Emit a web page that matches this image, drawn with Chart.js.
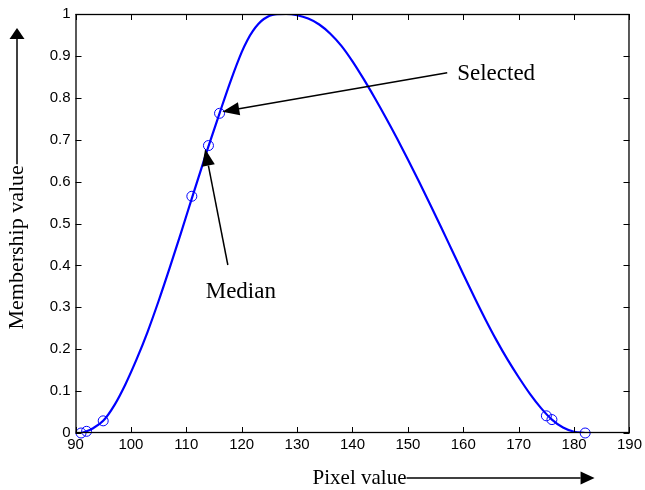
<!DOCTYPE html>
<html>
<head>
<meta charset="utf-8">
<script src="https://cdn.jsdelivr.net/npm/chart.js@4/dist/chart.umd.min.js"></script>
<style>
  html, body { margin: 0; padding: 0; background: #ffffff; }
  #wrap { width: 645px; height: 490px; }
</style>
</head>
<body>
<div id="wrap"><canvas id="membership-chart"></canvas></div>
<script>
// membership curve
const curveX = [91, 92, 93, 95, 97, 99, 101, 103, 105, 107, 109, 111, 113, 114, 116, 118, 120, 121, 122, 123, 124, 126, 128,
                130, 132, 134, 136, 138, 140, 142, 144, 146, 148, 150, 152, 154, 156, 158, 160, 162, 164, 166, 168,
                170, 172, 174, 176, 178, 180, 182];
const curveY = [0, 0.004, 0.01, 0.029, 0.066, 0.116, 0.175, 0.241, 0.315, 0.394, 0.476, 0.56, 0.643, 0.684, 0.763, 0.84, 0.909, 0.937, 0.959, 0.976, 0.988, 0.999, 1,
                0.997, 0.989, 0.975, 0.953, 0.924, 0.887, 0.845, 0.8, 0.753, 0.704, 0.653, 0.6, 0.546, 0.491, 0.435, 0.379, 0.324, 0.271, 0.221, 0.175,
                0.133, 0.094, 0.06, 0.032, 0.013, 0.003, 0];

// circled pixels
const markX = [91, 92, 95, 111, 114, 116, 175, 176, 182];
const markY = [0, 0.004, 0.029, 0.565, 0.686, 0.763, 0.041, 0.032, 0];

// axes
const xMin = 90, xMax = 190, xStep = 10;
const yMin = 0, yMax = 1, yStep = 0.1;
const xTitle = 'Pixel value';
const yTitle = 'Membership value';

// annotations (data units): label, text anchor, arrow tail, arrow tip
const noteLabels = ['Selected', 'Median'];
const noteTextAt = [[158.9, 0.858], [113.5, 0.336]];
const noteTail = [[157.1, 0.86], [117.5, 0.401]];
const noteTip = [[116.5, 0.767], [113.4, 0.678]];

const serif = '"Liberation Serif", "Times New Roman", serif';

function drawArrow(ctx, x0, y0, x1, y1, len, half) {
    let ang = Math.atan2(y1 - y0, x1 - x0);
    let bx = x1 - len * Math.cos(ang);
    let by = y1 - len * Math.sin(ang);
    ctx.beginPath();
    ctx.moveTo(x0, y0);
    ctx.lineTo(bx, by);
    ctx.stroke();
    ctx.beginPath();
    ctx.moveTo(x1, y1);
    ctx.lineTo(bx + half * Math.sin(ang), by - half * Math.cos(ang));
    ctx.lineTo(bx - half * Math.sin(ang), by + half * Math.cos(ang));
    ctx.closePath();
    ctx.fill();
}

// box, inward ticks, titles and arrows (matlab look)
const decorPlugin = {
    id: 'decor',
    afterDraw(chart) {
        const ctx = chart.ctx;
        const a = chart.chartArea;
        const xs = chart.scales.x;
        const ys = chart.scales.y;
        ctx.save();
        ctx.strokeStyle = '#000000';
        ctx.fillStyle = '#000000';
        ctx.lineWidth = 1.3;
        ctx.strokeRect(a.left + 0.5, a.top + 0.5, a.right - a.left - 1, a.bottom - a.top - 1);

        const tl = 6;
        ctx.lineWidth = 1;
        ctx.beginPath();
        xs.ticks.forEach(t => {
            let px = Math.round(xs.getPixelForValue(t.value)) + 0.5;
            ctx.moveTo(px, a.bottom); ctx.lineTo(px, a.bottom - tl);
            ctx.moveTo(px, a.top); ctx.lineTo(px, a.top + tl);
        });
        ys.ticks.forEach(t => {
            let py = Math.round(ys.getPixelForValue(t.value)) + 0.5;
            ctx.moveTo(a.left, py); ctx.lineTo(a.left + tl, py);
            ctx.moveTo(a.right, py); ctx.lineTo(a.right - tl, py);
        });
        ctx.stroke();

        // annotations
        ctx.lineWidth = 1.5;
        ctx.font = '23px ' + serif;
        ctx.textBaseline = 'middle';
        ctx.textAlign = 'left';
        for (let i = 0; i < noteLabels.length; i++) {
            drawArrow(ctx,
                xs.getPixelForValue(noteTail[i][0]), ys.getPixelForValue(noteTail[i][1]),
                xs.getPixelForValue(noteTip[i][0]), ys.getPixelForValue(noteTip[i][1]), 17, 6.5);
            ctx.fillText(noteLabels[i], xs.getPixelForValue(noteTextAt[i][0]), ys.getPixelForValue(noteTextAt[i][1]));
        }

        // x title with arrow to the right
        ctx.font = '21px ' + serif;
        let xw = ctx.measureText(xTitle).width;
        let xl = a.left + 0.428 * (a.right - a.left);
        let xy = chart.height - 12;
        ctx.fillText(xTitle, xl, xy);
        drawArrow(ctx, xl + xw, xy, a.left + 0.937 * (a.right - a.left), xy, 14, 6.5);

        // y title with arrow upward
        ctx.font = '22px ' + serif;
        let yw = ctx.measureText(yTitle).width;
        let yc = a.top + 0.557 * (a.bottom - a.top);
        let yx = 17;
        ctx.save();
        ctx.translate(yx, yc);
        ctx.rotate(-Math.PI / 2);
        ctx.textAlign = 'center';
        ctx.fillText(yTitle, 0, 0);
        ctx.restore();
        drawArrow(ctx, yx, yc - yw / 2 - 1, yx, a.top + 14, 11, 7.5);
        ctx.restore();
    }
};

const chartData = {
    datasets: [
        {
            label: 'membership',
            data: curveX.map((x, i) => ({x: x, y: curveY[i]})),
            showLine: true,
            borderColor: '#0000ff',
            borderWidth: 2.2,
            pointRadius: 0,
            cubicInterpolationMode: 'monotone',
            fill: false
        },
        {
            label: 'pixels',
            data: markX.map((x, i) => ({x: x, y: markY[i]})),
            showLine: false,
            pointStyle: 'circle',
            pointRadius: 5,
            borderColor: '#0000ff',
            borderWidth: 1,
            backgroundColor: 'rgba(0,0,0,0)',
            clip: false
        }
    ]
};

new Chart(document.getElementById('membership-chart'), {
    type: 'scatter',
    data: chartData,
    plugins: [decorPlugin],
    options: {
        responsive: true,
        maintainAspectRatio: false,
        animation: false,
        layout: {padding: {left: 0, right: 15, top: 12, bottom: 0}},
        plugins: {legend: {display: false}, tooltip: {enabled: false}},
        scales: {
            x: {
                type: 'linear',
                min: xMin, max: xMax,
                grid: {display: false, drawTicks: false},
                border: {display: false},
                ticks: {stepSize: xStep, color: '#000000', padding: 3,
                        font: {family: '"Liberation Sans", Arial, sans-serif', size: 15}},
                afterFit: s => { s.height = 57; }
            },
            y: {
                min: yMin, max: yMax,
                grid: {display: false, drawTicks: false},
                border: {display: false},
                ticks: {stepSize: yStep, color: '#000000', padding: 5,
                        font: {family: '"Liberation Sans", Arial, sans-serif', size: 15},
                        callback: v => String(+v.toFixed(1))},
                afterFit: s => { s.width = 75.5; }
            }
        }
    }
});
</script>
</body>
</html>
